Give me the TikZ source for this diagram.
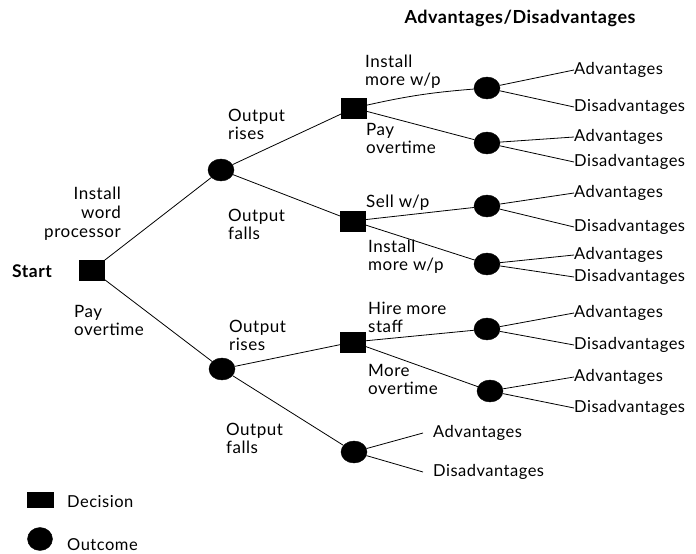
\documentclass[tikz,border=0pt]{standalone}
\usepackage{fontspec}
\setmainfont{Lato}[LetterSpace=3]
\usetikzlibrary{shapes.geometric}
\begin{document}
\begin{tikzpicture}[x=1pt,y=-1pt,
  dec/.style={draw,fill=black,rectangle,minimum width=25pt,minimum height=20pt,inner sep=0pt},
  outc/.style={draw,fill=black,ellipse,minimum width=26pt,minimum height=22pt,inner sep=0pt},
  lbl/.style={inner sep=0pt,align=left,anchor=west,font=\fontsize{17}{18}\selectfont},
  rlbl/.style={inner sep=0pt,align=right,anchor=east,font=\fontsize{17}{19}\selectfont},
  leaf/.style={inner sep=0pt,anchor=west,font=\fontsize{16.5}{17}\selectfont},
  bold/.style={inner sep=0pt,font=\bfseries\fontsize{18}{19}\selectfont},
  br/.style={line width=0.8pt}]
\useasboundingbox (0,0) rectangle (696,554);
\node[bold] (title) at (520,18) {Advantages/Disadvantages};
\node[bold,anchor=west,font=\bfseries\fontsize{17.5}{19}\selectfont] (start) at (12,271) {Start};
% decisions and outcomes
\node[dec] (S) at (92,270) {};
\node[outc] (O1) at (221,170) {};
\node[outc] (O2) at (222,369) {};
\node[dec] (D1) at (354,108) {};
\node[dec] (D2) at (353,221) {};
\node[dec] (D3) at (353,342) {};
\node[outc] (O3) at (354,452) {};
\node[outc] (L1) at (487,88) {};
\node[outc] (L2) at (487,143) {};
\node[outc] (L3) at (487,206) {};
\node[outc] (L4) at (487,264) {};
\node[outc] (L5) at (487,329) {};
\node[outc] (L6) at (490,391) {};
% branches
\draw[br] (S) -- (O1);
\draw[br] (S) -- (O2);
\draw[br] (O1) -- (D1);
\draw[br] (O1) -- (D2);
\draw[br] (O2) -- (D3);
\draw[br] (O2) -- (O3);
\draw[br] (D1) to[bend left=4] (L1);
\draw[br] (D1) -- (L2);
\draw[br] (D2) -- (L3);
\draw[br] (D2) -- (L4);
\draw[br] (D3) -- (L5);
\draw[br] (D3) -- (L6);
% branch labels
\node[rlbl] (t1) at (121,214) {Install\\word\\processor};
\node[lbl] (t2) at (74,320) {Pay\\overtime};
\node[lbl] (t3) at (228,124) {Output\\rises};
\node[lbl] (t4) at (228,224) {Output\\falls};
\node[lbl] (t5) at (229,335) {Output\\rises};
\node[lbl] (t6) at (226,438) {Output\\falls};
\node[lbl] (t7) at (365,72) {Install\\more w/p};
\node[lbl] (t8) at (366,138) {Pay\\overtime};
\node[lbl] (t9) at (366,203) {Sell w/p};
\node[lbl] (t10) at (368,257) {Install\\more w/p};
\node[lbl] (t11) at (368,317) {Hire more\\staff};
\node[lbl] (t12) at (368,379) {More\\overtime};
% leaves
\node[leaf] (a1) at (574,70) {Advantages};
\node[leaf] (d1) at (574,107) {Disadvantages};
\node[leaf] (a2) at (574,137) {Advantages};
\node[leaf] (d2) at (574,162) {Disadvantages};
\node[leaf] (a3) at (574,193) {Advantages};
\node[leaf] (d3) at (574,227) {Disadvantages};
\node[leaf] (a4) at (574,255) {Advantages};
\node[leaf] (d4) at (574,277) {Disadvantages};
\node[leaf] (a5) at (574,313) {Advantages};
\node[leaf] (d5) at (574,345) {Disadvantages};
\node[leaf] (a6) at (574,377) {Advantages};
\node[leaf] (d6) at (574,408) {Disadvantages};
\node[leaf] (a7) at (433,433) {Advantages};
\node[leaf] (d7) at (433,472) {Disadvantages};
\draw[br] (L1) -- (a1.west);
\draw[br] (L1) -- (d1.west);
\draw[br] (L2) -- (a2.west);
\draw[br] (L2) -- (d2.west);
\draw[br] (L3) -- (a3.west);
\draw[br] (L3) -- (d3.west);
\draw[br] (L4) -- (a4.west);
\draw[br] (L4) -- (d4.west);
\draw[br] (L5) -- (a5.west);
\draw[br] (L5) -- (d5.west);
\draw[br] (L6) -- (a6.west);
\draw[br] (L6) -- (d6.west);
\draw[br] (O3) -- ([xshift=-10pt]a7.west);
\draw[br] (O3) -- ([xshift=-10pt]d7.west);
% legend
\node[dec,minimum width=26pt,minimum height=15pt] (kd) at (40,500) {};
\node[leaf] (kdt) at (67,502) {Decision};
\node[outc,minimum width=25pt,minimum height=23pt] (ko) at (40,539) {};
\node[leaf] (kot) at (67,545) {Outcome};
\end{tikzpicture}
\end{document}
